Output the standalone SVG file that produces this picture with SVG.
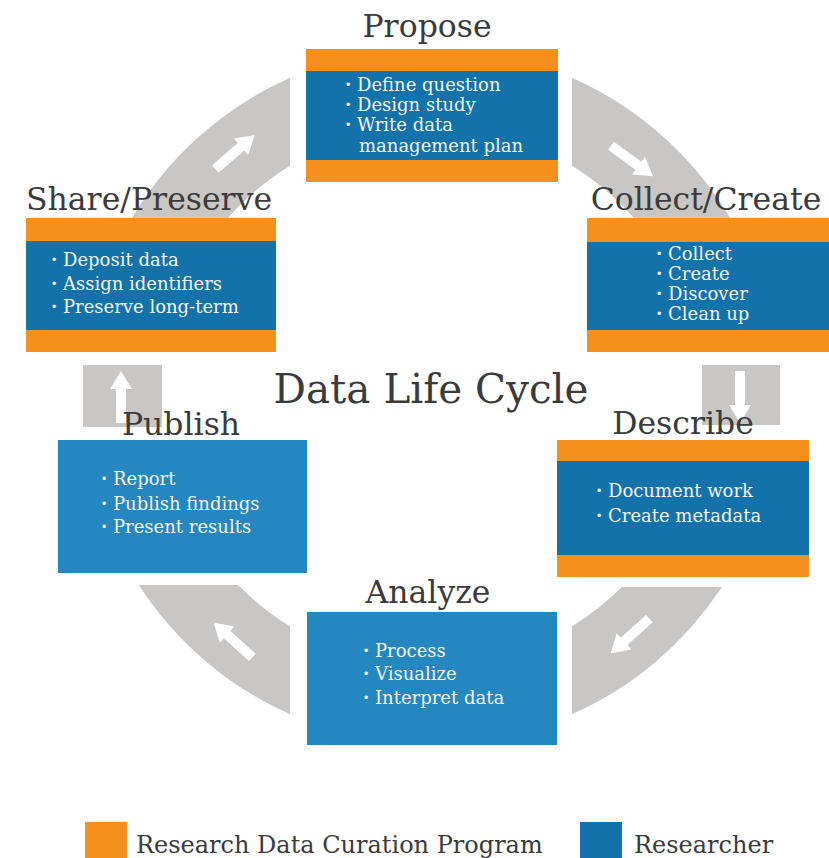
<svg xmlns="http://www.w3.org/2000/svg" width="829" height="858" viewBox="0 0 829 858">
<defs>
<style>
.seg{fill:#c9c7c5}
.arr{fill:#ffffff}
.org{fill:#f5901f}
.blu{fill:#1472aa}
.blu2{fill:#2587bf}
.ttl{font-family:"DejaVu Serif","Liberation Serif",serif;font-size:31.5px;fill:#3b3b3b}
.big{font-family:"DejaVu Serif","Liberation Serif",serif;font-size:40.5px;fill:#3b3b3b}
.itm{font-family:"DejaVu Serif","Liberation Serif",serif;font-size:18px;fill:#f4f4f4}
.leg{font-family:"DejaVu Serif","Liberation Serif",serif;font-size:24px;fill:#3b3b3b}
.dot{font-weight:bold}
</style>
<polygon id="arrow" points="-26,-5 8,-5 8,-11 26,0 8,11 8,5 -26,5"/>
</defs>
<rect width="829" height="858" fill="#ffffff"/>

<g id="connectors">
<path class="seg" d="M 127.9,225 A 348 348 0 0 1 290,77.8 L 290,165.7 A 270 270 0 0 0 222.1,225 Z"/>
<path class="seg" d="M 572,77.8 A 348 348 0 0 1 734.1,225 L 639.9,225 A 270 270 0 0 0 572,165.7 Z"/>
<rect class="seg" x="702" y="365" width="78" height="60"/>
<path class="seg" d="M 721.9,587 A 348 348 0 0 1 572,714.2 L 572,626.3 A 270 270 0 0 0 621.8,587 Z"/>
<path class="seg" d="M 290,714.2 A 348 348 0 0 1 138.8,585 L 238.2,585 A 270 270 0 0 0 290,626.3 Z"/>
<rect class="seg" x="83" y="365" width="79" height="62"/>
<use href="#arrow" class="arr" transform="translate(235,152) rotate(-41)"/>
<use href="#arrow" class="arr" transform="translate(632,161) rotate(36)"/>
<use href="#arrow" class="arr" transform="translate(740,397) rotate(90)"/>
<use href="#arrow" class="arr" transform="translate(630,636) rotate(138)"/>
<use href="#arrow" class="arr" transform="translate(233,640) rotate(-138)"/>
<use href="#arrow" class="arr" transform="translate(121,397) rotate(-90)"/>
</g>

<text class="big" x="431" y="403" text-anchor="middle">Data Life Cycle</text>

<g id="propose">
<text class="ttl" x="427" y="37" text-anchor="middle">Propose</text>
<rect class="org" x="306" y="49" width="252" height="133"/>
<rect class="blu" x="306" y="71" width="252" height="89"/>
<text class="itm" x="345" y="91"><tspan class="dot">·</tspan> Define question</text>
<text class="itm" x="345" y="111"><tspan class="dot">·</tspan> Design study</text>
<text class="itm" x="345" y="131"><tspan class="dot">·</tspan> Write data</text>
<text class="itm" x="359" y="152">management plan</text>
</g>

<g id="collect">
<text class="ttl" x="706" y="210" text-anchor="middle">Collect/Create</text>
<rect class="org" x="587" y="218" width="242" height="134"/>
<rect class="blu" x="587" y="242" width="242" height="88"/>
<text class="itm" x="656" y="260"><tspan class="dot">·</tspan> Collect</text>
<text class="itm" x="656" y="280"><tspan class="dot">·</tspan> Create</text>
<text class="itm" x="656" y="300"><tspan class="dot">·</tspan> Discover</text>
<text class="itm" x="656" y="320"><tspan class="dot">·</tspan> Clean up</text>
</g>

<g id="describe">
<text class="ttl" x="683" y="434" text-anchor="middle">Describe</text>
<rect class="org" x="557" y="440" width="252" height="137"/>
<rect class="blu" x="557" y="461" width="252" height="94"/>
<text class="itm" x="596" y="497"><tspan class="dot">·</tspan> Document work</text>
<text class="itm" x="596" y="522"><tspan class="dot">·</tspan> Create metadata</text>
</g>

<g id="analyze">
<text class="ttl" x="428" y="603" text-anchor="middle">Analyze</text>
<rect class="blu2" x="307" y="612" width="250" height="133"/>
<text class="itm" x="363" y="657"><tspan class="dot">·</tspan> Process</text>
<text class="itm" x="363" y="680"><tspan class="dot">·</tspan> Visualize</text>
<text class="itm" x="363" y="704"><tspan class="dot">·</tspan> Interpret data</text>
</g>

<g id="publish">
<text class="ttl" x="181" y="435" text-anchor="middle">Publish</text>
<rect class="blu2" x="58" y="440" width="249" height="133"/>
<text class="itm" x="101" y="485"><tspan class="dot">·</tspan> Report</text>
<text class="itm" x="101" y="510"><tspan class="dot">·</tspan> Publish findings</text>
<text class="itm" x="101" y="533"><tspan class="dot">·</tspan> Present results</text>
</g>

<g id="share">
<text class="ttl" x="149" y="210" text-anchor="middle">Share/Preserve</text>
<rect class="org" x="26" y="218" width="250" height="134"/>
<rect class="blu" x="26" y="241" width="250" height="89"/>
<text class="itm" x="51" y="266"><tspan class="dot">·</tspan> Deposit data</text>
<text class="itm" x="51" y="290"><tspan class="dot">·</tspan> Assign identifiers</text>
<text class="itm" x="51" y="313"><tspan class="dot">·</tspan> Preserve long-term</text>
</g>

<g id="legend">
<rect class="org" x="85" y="822" width="42" height="40"/>
<text class="leg" x="136" y="853">Research Data Curation Program</text>
<rect class="blu" x="580" y="822" width="42" height="40"/>
<text class="leg" x="634" y="853">Researcher</text>
</g>
</svg>
